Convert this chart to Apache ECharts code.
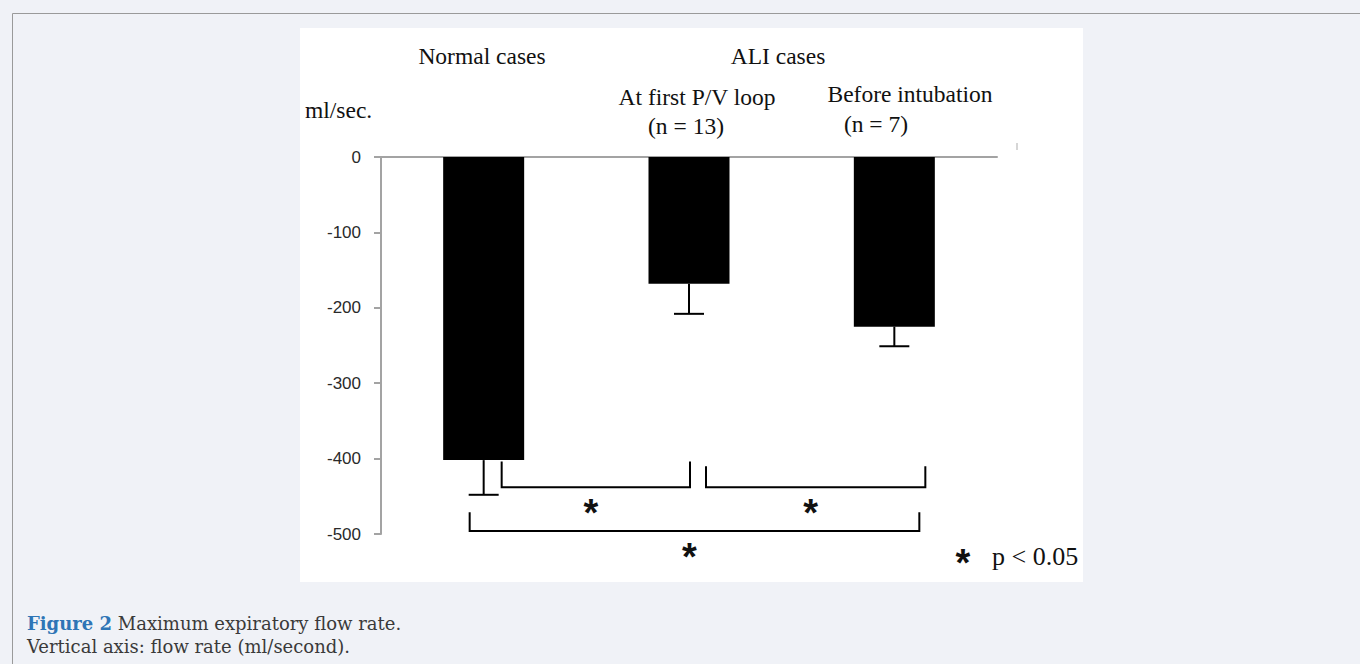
<!DOCTYPE html>
<html><head><meta charset="utf-8">
<script src="https://cdn.jsdelivr.net/npm/echarts@6/dist/echarts.min.js"></script>
<style>html,body{margin:0;padding:0;background:#f0f2f7;} #c{width:1360px;height:664px;}</style>
</head><body><div id="c"></div>
<script>
// ---- data ----
const categories = ['Normal cases', 'At first P/V loop', 'Before intubation'];
const meanFlow = [-402, -168, -225];
const errorEnd = [-448, -208, -251];
const yMin = -500, yMax = 0, yStep = 100;
// significance brackets: [fromCategory, toCategory, topValue, bottomValue]
const brackets = [[0, 1, -404, -438], [1, 2, -410, -438], [0, 2, -471, -496]];
const sigMark = '*';
const sigNote = 'p < 0.05';

const SERIF = '"Liberation Serif","Times New Roman",serif';
const SANS = '"Liberation Sans",Arial,sans-serif';
const chart = echarts.init(document.getElementById('c'), null, {renderer: 'svg'});

const bracketDx = [[18, 1], [17, 31], [-14, 25]];
const STAR_FONT = 'bold 38px ' + SANS;

function txt(x, y, s, align, size) {
  return {type: 'text', x: x, y: y, z: 10, style: {text: s, font: (size || 23.5) + 'px ' + SERIF, fill: '#111', textAlign: align || 'center', textVerticalAlign: 'middle'}};
}

chart.setOption({
  animation: false,
  grid: {left: 381, top: 157, width: 616, height: 377},
  xAxis: {
    type: 'category', data: categories, position: 'top',
    axisLine: {onZero: false, lineStyle: {color: '#a3a3a3', width: 2}},
    axisTick: {inside: true, length: 6, lineStyle: {color: '#a3a3a3', width: 2}},
    axisLabel: {show: false}
  },
  yAxis: {
    type: 'value', min: yMin, max: yMax, interval: yStep,
    axisLine: {show: true, lineStyle: {color: '#a3a3a3', width: 2}},
    axisTick: {show: true, length: 7, lineStyle: {color: '#a3a3a3', width: 2}},
    splitLine: {show: false},
    axisLabel: {margin: 20, color: '#2a2a2a', fontFamily: SANS, fontSize: 17}
  },
  graphic: [
    {type: 'rect', z: -100, shape: {x: 0, y: 0, width: 1360, height: 664}, style: {fill: '#f0f2f7'}},
    {type: 'line', z: -99, shape: {x1: 12.5, y1: 13.5, x2: 1360, y2: 13.5}, style: {stroke: '#9a9a9a', lineWidth: 1}},
    {type: 'line', z: -99, shape: {x1: 12.5, y1: 13.5, x2: 12.5, y2: 664}, style: {stroke: '#9a9a9a', lineWidth: 1}},
    {type: 'rect', z: -98, shape: {x: 300, y: 28, width: 783, height: 554}, style: {fill: '#ffffff'}},
    {type: 'line', z: -97, shape: {x1: 1017, y1: 143, x2: 1017, y2: 150}, style: {stroke: '#c8c8c8', lineWidth: 1.5}},
    txt(482, 56, 'Normal cases'),
    txt(778, 56, 'ALI cases'),
    txt(697, 97, 'At first P/V loop'),
    txt(686, 126, '(n = 13)'),
    txt(910, 94, 'Before intubation'),
    txt(876, 124, '(n = 7)'),
    txt(305, 110, 'ml/sec.', 'left'),
    {type: 'text', x: 963, y: 563, z: 10, style: {text: sigMark, font: STAR_FONT, fill: '#111', textAlign: 'center', textVerticalAlign: 'middle'}},
    txt(992, 556, sigNote, 'left', 26),
    {type: 'text', x: 27, y: 623, z: 10, style: {
      text: '{b|Figure 2} Maximum expiratory flow rate.', textVerticalAlign: 'middle',
      rich: {b: {fontFamily: '"DejaVu Serif",serif', fontSize: 18, fontWeight: 'bold', fill: '#2e75b6', color: '#2e75b6'}},
      font: '18px "DejaVu Serif",serif', fill: '#3a3a3a'}},
    {type: 'text', x: 27, y: 646, z: 10, style: {text: 'Vertical axis: flow rate (ml/second).', font: '18px "DejaVu Serif",serif', fill: '#3a3a3a', textVerticalAlign: 'middle'}}
  ],
  series: [
    {type: 'bar', data: meanFlow, barWidth: 81, itemStyle: {color: '#000'}, z: 2},
    {
      type: 'custom', z: 3,
      data: meanFlow.map((v, i) => [i, v, errorEnd[i]]),
      renderItem: function (params, api) {
        const a = api.coord([api.value(0), api.value(1)]);
        const b = api.coord([api.value(0), api.value(2)]);
        const st = {stroke: '#000', lineWidth: 2};
        return {type: 'group', children: [
          {type: 'line', shape: {x1: a[0], y1: a[1], x2: b[0], y2: b[1]}, style: st},
          {type: 'line', shape: {x1: b[0] - 15, y1: b[1], x2: b[0] + 15, y2: b[1]}, style: st}
        ]};
      }
    },
    {
      type: 'custom', z: 3,
      data: brackets,
      renderItem: function (params, api) {
        const d = bracketDx[params.dataIndex];
        const l = api.coord([api.value(0), api.value(2)]);
        const r = api.coord([api.value(1), api.value(2)]);
        const bl = api.coord([api.value(0), api.value(3)]);
        const x1 = l[0] + d[0], x2 = r[0] + d[1], yb = bl[1];
        const st = {stroke: '#000', lineWidth: 2, fill: null};
        return {type: 'group', children: [
          {type: 'polyline', shape: {points: [[x1, l[1]], [x1, yb], [x2, yb], [x2, l[1]]]}, style: st},
          {type: 'text', x: (x1 + x2) / 2 - 5, y: yb + 26, style: {text: sigMark, font: STAR_FONT, fill: '#111', textAlign: 'center', textVerticalAlign: 'middle'}}
        ]};
      }
    }
  ]
});
</script></body></html>
